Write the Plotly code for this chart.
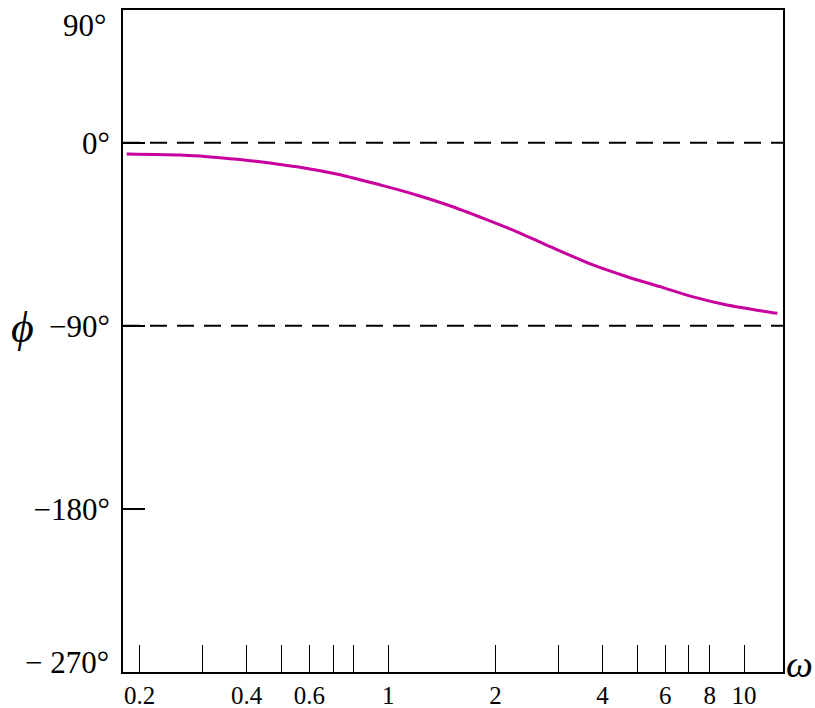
import plotly.graph_objects as go

# Data
omega = [0.184, 0.26, 0.296, 0.337, 0.383, 0.436, 0.496, 0.565, 0.643, 0.732,
         0.822, 0.966, 1.20, 1.49, 1.85, 2.30, 2.85, 3.76, 4.69, 5.80, 7.19,
         8.95, 11.1, 12.4]
phase_deg = [-5.5, -6.0, -6.6, -7.4, -8.3, -9.4, -10.7, -12.1, -13.8, -15.8,
             -18.0, -21.1, -25.7, -31.0, -37.2, -43.8, -51.1, -60.1, -65.9,
             -70.8, -75.8, -79.8, -82.6, -83.9]

x_tickvals = [0.2, 0.3, 0.4, 0.5, 0.6, 0.7, 0.8, 1, 2, 3, 4, 5, 6, 7, 8, 10]
x_ticktext = ["0.2", "", "0.4", "", "0.6", "", "", "1", "2", "", "4", "", "6", "", "8", "10"]

y_tickvals = [0, -90, -180]
y_ticktext = ["0°", "−90°", "−180°"]
ref_lines = [0, -90]
edge_labels = ["90°", "− 270°"]

FONT = "Liberation Serif"

fig = go.Figure()
fig.add_trace(go.Scatter(x=omega, y=phase_deg, mode="lines",
                         line=dict(color="#C8009E", width=3, shape="spline", smoothing=0.8),
                         showlegend=False, hoverinfo="skip"))

for yv in ref_lines:
    fig.add_shape(type="line", xref="paper", x0=0, x1=1, yref="y", y0=yv, y1=yv,
                  line=dict(color="black", width=2, dash="17px,10px"), layer="below")

fig.update_layout(
    width=815, height=708,
    margin=dict(l=123, r=32, t=10, b=36, autoexpand=False),
    paper_bgcolor="white", plot_bgcolor="white",
    font=dict(family=FONT, color="black"),
)

fig.update_xaxes(type="log", range=[-0.7456, 1.1093],
                 tickvals=x_tickvals, ticktext=x_ticktext,
                 ticks="inside", ticklen=27, tickwidth=1, tickcolor="black",
                 showline=True, linecolor="black", linewidth=2, mirror=True,
                 showgrid=False, zeroline=False,
                 tickfont=dict(family=FONT, size=25, color="black"),
                 ticklabelstandoff=0, automargin=False)

fig.update_yaxes(range=[-260.3, 65.26],
                 tickvals=y_tickvals, ticktext=y_ticktext,
                 ticks="inside", ticklen=22, tickwidth=2, tickcolor="black",
                 showline=True, linecolor="black", linewidth=2, mirror=True,
                 showgrid=False, zeroline=False,
                 tickfont=dict(family=FONT, size=31, color="black"),
                 ticklabelstandoff=5, automargin=False)

# Frame-edge labels as they appear in the reference
fig.add_annotation(text=edge_labels[0], xref="paper", yref="paper", x=0, y=1,
                   xanchor="right", yanchor="middle", xshift=-15, yshift=-15,
                   showarrow=False, font=dict(family=FONT, size=31, color="black"))
fig.add_annotation(text=edge_labels[1], xref="paper", yref="paper", x=0, y=0,
                   xanchor="right", yanchor="middle", xshift=-12, yshift=10,
                   showarrow=False, font=dict(family=FONT, size=31, color="black"))

# Axis symbols
fig.add_annotation(text="<i>ϕ</i>", xref="paper", yref="y", x=0, y=-90,
                   xanchor="center", yanchor="middle", xshift=-101, yshift=-2,
                   showarrow=False, font=dict(family=FONT, size=44, color="black"))
fig.add_annotation(text="<i>ω</i>", xref="paper", yref="paper", x=1, y=0,
                   xanchor="center", yanchor="middle", xshift=16, yshift=8,
                   showarrow=False, font=dict(family=FONT, size=38, color="black"))

fig.write_html("out.html")
